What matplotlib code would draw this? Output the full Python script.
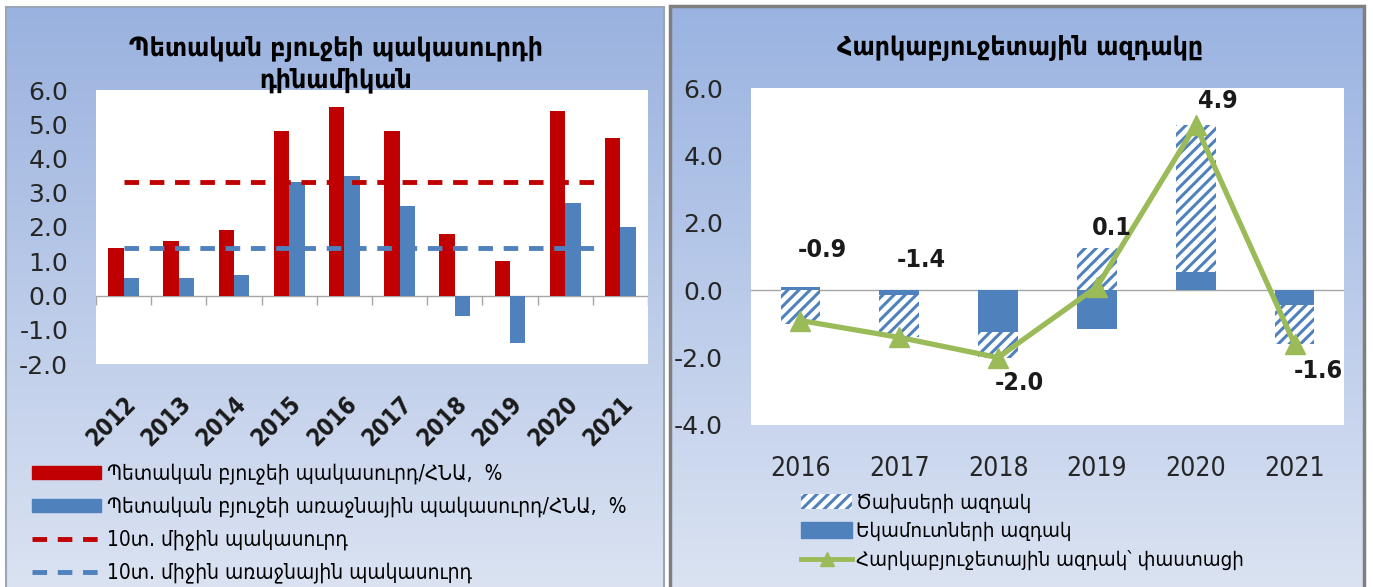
import matplotlib as mpl
import matplotlib.pyplot as plt
import numpy as np
from matplotlib.patches import Patch, Rectangle
from matplotlib.lines import Line2D

# ---- data -------------------------------------------------------------
years_left = ['2012', '2013', '2014', '2015', '2016', '2017', '2018', '2019', '2020', '2021']
deficit = [1.4, 1.6, 1.9, 4.8, 5.5, 4.8, 1.8, 1.0, 5.4, 4.6]
primary_deficit = [0.5, 0.5, 0.6, 3.3, 3.5, 2.6, -0.6, -1.4, 2.7, 2.0]
avg_deficit = 3.3
avg_primary = 1.4

years_right = ['2016', '2017', '2018', '2019', '2020', '2021']
revenue_impulse = [0.1, -0.15, -1.25, -1.15, 0.55, -0.45]
spending_impulse = [-1.0, -1.25, -0.75, 1.25, 4.35, -1.15]
fiscal_impulse = [-0.9, -1.4, -2.0, 0.1, 4.9, -1.6]

title_left = 'Պետական բյուջեի պակասուրդի\nդինամիկան'
title_right = 'Հարկաբյուջետային ազդակը'
legend_left = ['Պետական բյուջեի պակասուրդ/ՀՆԱ,  %',
               'Պետական բյուջեի առաջնային պակասուրդ/ՀՆԱ,  %',
               '10տ. միջին պակասուրդ',
               '10տ. միջին առաջնային պակասուրդ']
legend_right = ['Ծախսերի ազդակ', 'Եկամուտների ազդակ', 'Հարկաբյուջետային ազդակ՝ փաստացի']

RED = '#c00000'
BLUE = '#4f81bd'
GREEN = '#9bbb59'

mpl.rcParams['font.family'] = ['DejaVu Sans']
mpl.rcParams['font.stretch'] = 'condensed'
mpl.rcParams['hatch.linewidth'] = 2.2

W, H = 1373, 587
fig = plt.figure(figsize=(W / 100, H / 100), dpi=100)


def rect(x0, y0, x1, y1):
    # pixel box (top-left origin) -> figure fraction
    return [x0 / W, 1 - y1 / H, (x1 - x0) / W, (y1 - y0) / H]


def panel(x0, y0, x1, y1, top, bottom, edge, lw):
    bg = fig.add_axes(rect(x0, y0, x1, y1), zorder=-10)
    grad = np.linspace(0, 1, 256)[:, None]
    c0 = np.array(mpl.colors.to_rgb(top))
    c1 = np.array(mpl.colors.to_rgb(bottom))
    img = c0[None, None, :] * (1 - grad[:, :, None]) + c1[None, None, :] * grad[:, :, None]
    bg.imshow(img, aspect='auto', extent=[0, 1, 0, 1])
    bg.set_xlim(0, 1)
    bg.set_ylim(0, 1)
    bg.axis('off')
    bg.add_patch(Rectangle((0, 0), 1, 1, fill=False, edgecolor=edge, linewidth=lw,
                           transform=bg.transAxes, clip_on=False))


panel(6, 7, 664, 590, '#9ab2df', '#dbe3f2', '#9aa6b8', 1.5)
panel(670, 6, 1364, 590, '#9ab3e1', '#dbe3f2', '#7f7f7f', 2.5)

# ---- left chart --------------------------------------------------------
ax = fig.add_axes(rect(96, 90, 648, 364))
ax.set_facecolor('white')
x = np.arange(len(years_left))
w = 0.28
ax.bar(x - w / 2, deficit, w, color=RED, zorder=2)
ax.bar(x + w / 2, primary_deficit, w, color=BLUE, zorder=2)
ax.plot([x[0], x[-1] - 0.3], [avg_deficit] * 2, color=RED, lw=3.5, ls=(0, (3, 2.2)), zorder=3)
ax.plot([x[0], x[-1] - 0.3], [avg_primary] * 2, color=BLUE, lw=3.5, ls=(0, (3, 2.2)), zorder=3)
ax.axhline(0, color='#a6a6a6', lw=1, zorder=1)
bounds = np.arange(len(years_left) + 1) - 0.5
ax.vlines(bounds, -0.27, 0, color='#a6a6a6', lw=1, zorder=1)
ax.set_xlim(-0.5, len(years_left) - 0.5)
ax.set_ylim(-2, 6)
ax.set_yticks(np.arange(-2, 7, 1))
ax.set_yticklabels([f'{v:.1f}' for v in np.arange(-2, 7, 1)], fontsize=18,
                   fontstretch='normal', color='#262626')
ax.set_xticks(x)
ax.set_xticklabels(years_left, rotation=45, ha='right', rotation_mode='anchor',
                   fontsize=17, fontweight='bold', color='#1a1a1a')
ax.tick_params(axis='x', length=0, pad=20)
ax.tick_params(axis='y', length=0, pad=20)
for s in ax.spines.values():
    s.set_visible(False)
fig.text(336 / W, 1 - 64 / H, title_left, ha='center', va='center', fontsize=19,
         fontweight='bold', linespacing=1.3)

h_left = [Patch(color=RED), Patch(color=BLUE),
          Line2D([], [], color=RED, lw=3.5, ls=(0, (3, 2.2))),
          Line2D([], [], color=BLUE, lw=3.5, ls=(0, (3, 2.2)))]
fig.legend(h_left, legend_left, loc='upper left', bbox_to_anchor=(24 / W, 1 - 455 / H),
           frameon=False, fontsize=15, handlelength=3.3, handleheight=0.6,
           handletextpad=0.3, labelspacing=0.58, borderaxespad=0)

# ---- right chart -------------------------------------------------------
ax2 = fig.add_axes(rect(751, 88, 1344, 425))
ax2.set_facecolor('white')
xr = np.arange(len(years_right))
rev = np.array(revenue_impulse)
spd = np.array(spending_impulse)
base = np.where(np.sign(rev) == np.sign(spd), rev, 0)
bw = 0.4
ax2.bar(xr, rev, bw, color=BLUE, zorder=2)
ax2.bar(xr, spd, bw, bottom=base, facecolor='white', edgecolor=BLUE, hatch='///',
        linewidth=0, zorder=2)
ax2.plot(xr, fiscal_impulse, color=GREEN, lw=3.8, marker='^', ms=15, zorder=4)
ax2.axhline(0, color='#a6a6a6', lw=1, zorder=1)
label_dx = [0.22, 0.22, 0.22, 0.15, 0.22, 0.24]
label_y = [1.2, 0.9, -2.75, 1.85, 5.6, -2.4]
for xi, v, dx, ly in zip(xr, fiscal_impulse, label_dx, label_y):
    ax2.text(xi + dx, ly, f'{v:.1f}', ha='center', va='center', fontsize=18,
             fontweight='bold', color='#1a1a1a', zorder=5)
ax2.set_xlim(-0.5, len(years_right) - 0.5)
ax2.set_ylim(-4, 6)
ax2.set_yticks(np.arange(-4, 7, 2))
ax2.set_yticklabels([f'{v:.1f}' for v in np.arange(-4, 7, 2)], fontsize=18,
                    fontstretch='normal', color='#262626')
ax2.set_xticks(xr)
ax2.set_xticklabels(years_right, fontsize=19, color='#262626')
ax2.tick_params(axis='x', length=0, pad=22)
ax2.tick_params(axis='y', length=0, pad=20)
for s in ax2.spines.values():
    s.set_visible(False)
fig.text(1020 / W, 1 - 47 / H, title_right, ha='center', va='center', fontsize=19,
         fontweight='bold')

h_right = [Patch(facecolor='white', edgecolor=BLUE, hatch='///', linewidth=0),
           Patch(color=BLUE),
           Line2D([], [], color=GREEN, lw=3.5, marker='^', ms=10)]
fig.legend(h_right, legend_right, loc='upper left', bbox_to_anchor=(793 / W, 1 - 485 / H),
           frameon=False, fontsize=14.7, handlelength=2.5, handleheight=0.8,
           handletextpad=0.2, labelspacing=0.44, borderaxespad=0)

fig.savefig('out.png', dpi=100)
